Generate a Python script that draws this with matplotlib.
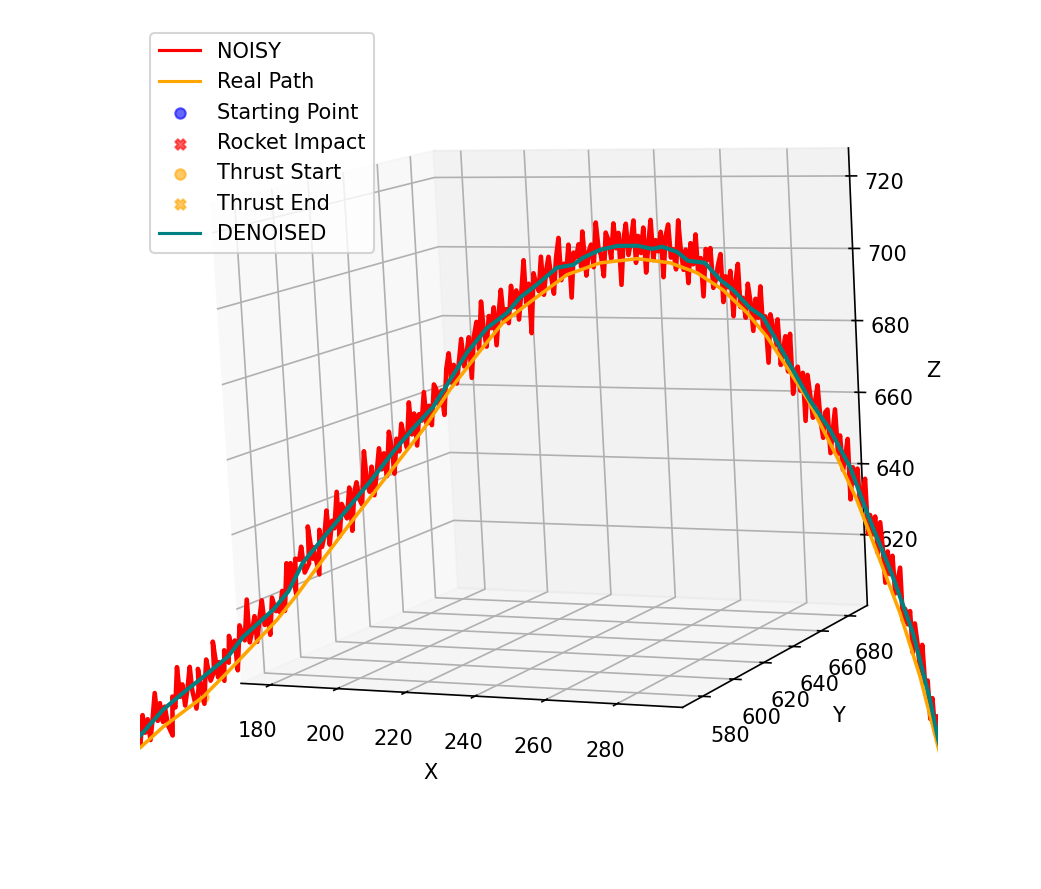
import matplotlib.pyplot as plt

# real trajectory
real_x = [116.3,119.7,126.3,137.6,144.5,150.2,158.8,164.5,170.3,177.7,188.3,200.4,208.0,215.6,222.8,232.0,240.0,248.7,258.2,266.6,273.4,
          279.8,285.7,290.5,293.6,300.2,307.0,311.6,316.2,321.4,325.9,329.8,332.4]
real_y = [597.4,598.4,600.4,603.8,605.8,607.6,610.1,611.9,613.6,615.8,619.0,622.6,624.9,627.2,629.3,632.1,634.5,637.1,640.0,642.5,644.5,
          646.4,648.2,649.6,650.6,652.6,654.6,656.0,657.4,658.9,660.3,661.4,662.2]
real_z = [569.8,572.3,578.1,586.4,593.1,598.9,607.7,614.6,622.1,631.5,644.6,659.4,670.1,679.5,688.0,694.7,700.4,703.3,704.1,702.7,699.8,
          695.0,688.6,682.0,676.5,664.7,649.0,637.2,622.7,606.2,588.5,569.2,557.2]

# filter output
den_x = [116.5,119.9,126.6,133.4,137.1,145.0,149.4,157.9,162.2,166.6,174.3,185.7,192.7,197.5,203.4,208.8,213.0,218.6,224.0,227.5,232.1,
         237.5,241.7,244.3,248.8,253.2,258.4,262.2,264.8,268.5,271.2,275.5,279.2,282.4,286.5,289.7,293.7,300.7,305.5,310.2,314.7,320.0,
         324.5,328.2,329.9,332.5]
den_y = [597.4,598.5,600.5,602.5,603.6,606.0,607.3,609.9,611.2,612.5,614.8,618.2,620.3,621.8,623.5,625.1,626.4,628.1,629.7,630.8,632.1,
         633.8,635.0,635.8,637.1,638.5,640.0,641.2,641.9,643.1,643.9,645.2,646.3,647.2,648.4,649.4,650.6,652.7,654.2,655.6,656.9,658.5,
         659.9,661.0,661.5,662.2]
den_z = [573.2,575.7,583.0,588.5,591.3,597.6,603.1,610.5,615.5,623.5,632.4,645.5,654.1,659.5,665.6,673.7,680.1,686.7,690.6,694.6,698.0,
         702.4,703.0,704.8,706.8,707.7,707.6,706.6,707.1,705.6,703.1,702.4,697.7,694.9,689.9,687.4,679.2,664.6,656.4,646.2,631.7,616.0,
         600.6,582.1,571.1,558.6]

# noisy measurements
noisy_x = [117.1,117.7,118.6,119.2,119.8,120.9,121.3,122.2,122.6,123.6,124.6,124.9,125.8,126.3,127.1,127.6,128.7,129.3,129.9,131.1,131.4,
           132.2,132.6,133.6,134.5,134.8,135.6,136.5,136.7,137.8,138.7,139.1,139.9,141.0,141.2,142.0,142.5,143.6,144.1,145.1,145.6,146.1,
           147.1,147.4,148.6,149.2,149.8,151.0,151.1,152.0,152.8,153.1,154.2,155.0,155.4,156.3,156.7,157.8,158.6,159.0,159.6,160.6,161.0,162.2,
           162.6,163.3,164.3,164.6,165.7,166.4,166.9,168.2,168.5,169.3,169.6,170.8,171.5,171.9,172.8,173.7,174.0,175.0,175.5,176.7,176.8,
           177.8,178.4,179.0,180.1,180.2,181.3,182.1,182.6,183.2,184.5,184.8,185.4,186.3,186.6,187.6,188.5,189.0,189.8,190.2,191.4,191.9,
           192.2,193.3,193.8,194.8,195.3,195.9,197.1,197.4,198.3,198.6,199.6,200.2,201.2,201.5,202.3,202.8,203.9,204.5,205.0,205.8,206.2,207.4,
           208.2,208.6,209.4,209.9,210.8,211.7,212.1,212.8,213.7,213.9,215.0,215.9,216.2,217.4,217.7,218.2,219.2,219.7,220.6,220.8,221.9,
           222.7,223.1,223.8,224.3,225.4,225.8,226.7,227.0,228.0,229.0,229.1,230.0,230.1,231.4,231.9,232.5,233.5,233.8,234.7,235.5,235.9,
           236.4,237.4,238.3,238.5,239.3,239.8,240.8,240.9,242.0,242.6,243.4,243.8,244.5,245.0,245.9,246.6,247.0,248.1,248.5,249.0,249.5,250.5,
           251.1,251.6,252.6,253.0,253.8,253.9,255.0,255.8,256.1,256.8,257.8,257.9,258.8,259.3,260.2,260.4,261.3,262.2,262.4,263.2,263.8,
           264.6,264.8,265.8,266.6,266.9,267.6,268.1,269.2,269.5,270.0,270.8,271.1,272.1,272.5,273.5,273.7,274.5,274.8,275.9,276.4,277.1,
           277.4,278.1,278.8,279.6,279.8,280.6,281.2,281.9,282.2,283.1,283.9,284.1,284.8,285.3,286.2,286.7,287.1,288.0,288.5,289.4,289.6,290.3,
           290.6,291.6,292.1,292.9,293.4,293.7,294.4,295.2,295.5,296.4,296.5,297.4,298.0,298.4,299.2,299.4,300.4,300.9,301.3,302.1,302.8,
           303.2,303.7,304.5,305.1,305.4,306.2,307.0,307.3,308.0,308.4,309.1,309.9,310.0,310.9,311.4,312.1,312.4,313.2,313.9,314.1,314.8,
           315.3,316.1,316.4,317.3,317.7,318.0,318.9,319.3,320.1,320.4,321.1,321.9,322.1,322.8,323.3,324.0,324.3,325.1,325.6,326.0,326.8,327.1,
           327.8,328.1,328.8,329.2,329.9,330.3,330.8,331.5,331.8,332.5]
noisy_y = [597.7,597.8,598.1,598.3,598.4,598.8,598.9,599.2,599.3,599.6,599.9,600.0,600.3,600.4,600.6,600.8,601.1,601.3,601.5,601.8,601.9,
           602.2,602.3,602.6,602.9,602.9,603.2,603.5,603.5,603.9,604.1,604.2,604.5,604.8,604.8,605.1,605.2,605.6,605.7,606.0,606.2,606.3,
           606.6,606.7,607.1,607.3,607.4,607.8,607.8,608.1,608.3,608.4,608.8,609.0,609.1,609.4,609.5,609.8,610.1,610.2,610.4,610.7,610.8,611.2,
           611.3,611.5,611.8,611.9,612.2,612.4,612.6,613.0,613.0,613.3,613.4,613.7,613.9,614.1,614.3,614.6,614.7,615.0,615.2,615.5,615.5,
           615.9,616.0,616.2,616.5,616.6,616.9,617.1,617.3,617.5,617.9,618.0,618.1,618.4,618.5,618.8,619.1,619.2,619.4,619.6,619.9,620.1,
           620.2,620.5,620.7,620.9,621.1,621.3,621.6,621.7,622.0,622.1,622.4,622.6,622.8,622.9,623.2,623.3,623.7,623.8,624.0,624.2,624.4,624.7,
           625.0,625.1,625.3,625.5,625.7,626.0,626.1,626.4,626.6,626.7,627.0,627.3,627.4,627.7,627.8,628.0,628.3,628.4,628.7,628.8,629.1,
           629.3,629.4,629.7,629.8,630.1,630.2,630.5,630.6,630.9,631.2,631.2,631.5,631.5,631.9,632.1,632.3,632.6,632.6,632.9,633.1,633.3,
           633.4,633.7,634.0,634.0,634.3,634.4,634.7,634.8,635.1,635.3,635.5,635.6,635.9,636.0,636.3,636.5,636.6,636.9,637.0,637.2,637.3,637.7,
           637.8,638.0,638.3,638.4,638.6,638.7,639.0,639.2,639.3,639.5,639.8,639.9,640.1,640.3,640.6,640.6,640.9,641.1,641.2,641.5,641.6,
           641.9,641.9,642.2,642.5,642.6,642.8,642.9,643.3,643.4,643.5,643.7,643.8,644.1,644.3,644.5,644.6,644.9,644.9,645.3,645.4,645.6,
           645.7,645.9,646.1,646.4,646.4,646.7,646.9,647.1,647.2,647.4,647.7,647.7,647.8,648.1,648.4,648.5,648.6,648.9,649.0,649.3,649.4,649.6,
           649.7,650.0,650.1,650.3,650.5,650.6,650.8,651.0,651.1,651.4,651.5,651.7,651.9,652.0,652.3,652.3,652.6,652.8,652.9,653.1,653.4,
           653.5,653.6,653.8,654.0,654.1,654.4,654.6,654.7,654.9,655.0,655.2,655.5,655.5,655.8,655.9,656.1,656.2,656.5,656.7,656.7,657.0,
           657.1,657.3,657.4,657.7,657.8,657.9,658.2,658.3,658.5,658.6,658.8,659.1,659.1,659.3,659.5,659.7,659.8,660.0,660.2,660.3,660.5,660.6,
           660.8,660.9,661.2,661.3,661.5,661.6,661.7,661.9,662.0,662.3]
noisy_z = [575.4,573.1,577.9,575.9,573.1,581.5,576.5,580.3,574.4,580.7,587.7,579.8,584.8,579.5,583.8,578.5,575.6,586.6,583.5,594.9,586.5,
           590.0,584.0,589.2,594.9,588.4,583.1,588.8,594.3,584.4,593.4,596.9,590.9,593.5,601.9,591.8,596.1,590.8,599.4,595.9,603.4,599.4,
           602.1,593.7,606.3,603.6,602.1,613.5,601.5,605.0,608.8,601.6,609.0,613.2,606.3,609.0,603.5,613.9,610.1,610.8,609.8,615.7,610.1,623.4,
           616.6,623.4,614.7,624.6,624.3,627.9,620.7,623.2,633.5,624.5,627.7,620.1,632.5,627.7,631.0,637.8,628.3,634.9,632.8,642.9,630.5,
           639.5,637.9,635.5,644.0,632.0,642.5,645.4,640.6,639.2,653.9,645.4,642.7,649.6,641.7,648.2,654.6,648.8,653.2,646.9,659.1,654.4,
           647.5,657.1,653.6,661.2,657.6,654.6,667.0,658.2,663.9,655.1,663.7,661.9,669.7,661.0,665.9,660.6,671.7,670.3,666.0,670.0,663.3,675.9,
           680.1,672.1,676.9,671.8,677.7,683.9,676.4,679.5,684.3,673.2,684.2,688.4,680.9,693.9,686.1,681.6,689.9,686.6,692.2,681.9,691.2,
           696.9,688.3,691.6,687.8,697.9,692.1,696.6,688.7,696.2,704.7,693.1,698.3,684.9,701.1,698.2,696.2,705.5,695.2,701.7,705.4,700.1,
           695.4,704.9,710.4,699.0,703.4,700.4,708.5,694.2,706.3,705.0,708.5,702.4,711.9,700.0,706.5,708.3,702.2,714.2,707.0,705.5,699.7,711.4,
           709.4,704.3,713.8,707.1,711.2,697.2,709.4,713.6,705.2,708.4,714.4,703.0,710.2,705.6,712.4,700.3,708.0,714.4,703.6,708.9,705.9,
           711.1,698.9,709.8,713.0,704.1,706.3,700.9,714.0,706.1,700.7,706.1,697.1,707.8,702.1,710.1,699.8,703.7,693.4,706.1,703.1,706.3,
           695.6,697.7,701.4,704.6,691.7,698.6,695.6,700.0,687.8,697.0,701.8,690.2,692.7,687.3,696.4,691.5,683.7,692.3,687.2,695.6,684.1,687.5,
           675.0,688.0,685.0,679.7,686.6,674.3,678.1,682.0,672.5,682.6,666.4,672.8,673.7,667.2,672.0,659.0,671.4,665.2,659.8,664.5,668.5,
           659.0,654.3,661.2,661.9,650.1,656.1,661.9,649.9,654.8,645.5,649.0,653.8,637.4,646.1,641.8,645.7,635.5,639.6,642.9,628.0,633.0,
           627.7,632.6,622.6,631.0,623.8,614.5,623.0,616.8,621.8,611.5,614.7,618.5,604.0,607.2,603.0,606.6,595.1,603.2,597.2,589.3,597.3,586.8,
           587.5,576.9,582.6,572.9,577.6,570.0,563.0,566.8,556.7,560.4]

start_pt = [116.3, 597.4, 569.8]
impact_pt = [332.4, 662.2, 557.2]
thrust_start = [137.6, 603.8, 586.2]
thrust_end = [208.2, 625.0, 674.0]

x_ticks = [180, 200, 220, 240, 260, 280]
y_ticks = [580, 600, 620, 640, 660, 680]
z_ticks = [620, 640, 660, 680, 700, 720]

fig = plt.figure(figsize=(1041/150, 889/150), dpi=150)
ax = fig.add_axes([140/1041, 68/889, 798/1041, 798/889], projection='3d')
ax.computed_zorder = False
ax.view_init(elev=8.86, azim=-64.04, roll=3.01)
ax.set_box_aspect((1, 1, 1))

ax.plot(noisy_x, noisy_y, noisy_z, color='red', lw=2.2, label='NOISY')
ax.plot(real_x, real_y, real_z, color='orange', lw=1.7, label='Real Path')
ax.scatter(*start_pt, color='blue', alpha=0.6, marker='o', s=25, depthshade=False, label='Starting Point')
ax.scatter(*impact_pt, color='red', alpha=0.6, marker='X', s=25, depthshade=False, label='Rocket Impact')
ax.scatter(*thrust_start, color='orange', alpha=0.6, marker='o', s=25, depthshade=False, label='Thrust Start')
ax.scatter(*thrust_end, color='orange', alpha=0.6, marker='X', s=25, depthshade=False, label='Thrust End')
ax.plot(den_x, den_y, den_z, color='teal', lw=2, label='DENOISED')

ax.set_xlim3d(171.19, 298.07)
ax.set_ylim3d(567.38, 694.12)
ax.set_zlim3d(599.99, 727.69)
ax.set_xticks(x_ticks)
ax.set_yticks(y_ticks)
ax.set_zticks(z_ticks)
ax.tick_params(axis='x', pad=4.3)
ax.set_xlabel('X', labelpad=5)
ax.set_ylabel('Y')
ax.set_zlabel('Z')
leg = ax.legend(loc='upper left')
for h in leg.get_lines():
    h.set_linewidth(1.5)

fig.savefig('out.png', dpi=150)
